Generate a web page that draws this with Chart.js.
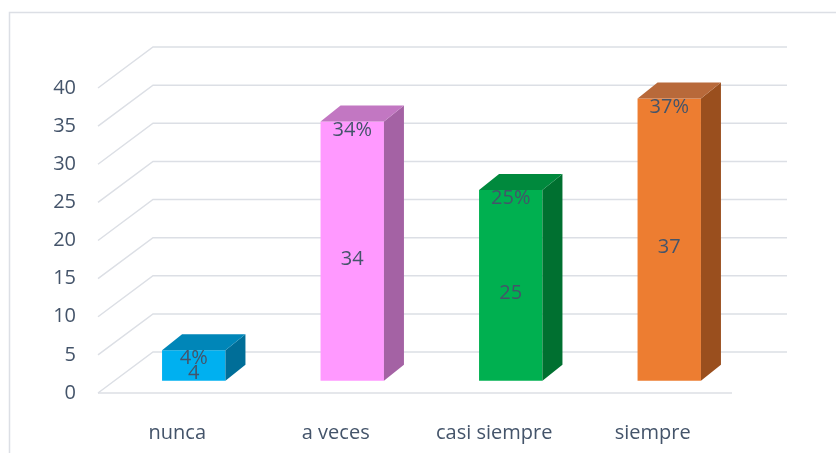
<!DOCTYPE html>
<html>
<head>
<meta charset="utf-8">
<script src="https://cdn.jsdelivr.net/npm/chart.js@4.4.0/dist/chart.umd.min.js"></script>
<style>
  html, body { margin: 0; padding: 0; background: #fff; }
  #wrap { width: 836px; height: 453px; }
</style>
</head>
<body>
<div id="wrap"><canvas id="barChart"></canvas></div>
<script>
const categories = ["nunca", "a veces", "casi siempre", "siempre"];
const values = [4, 34, 25, 37];
const percentLabels = ["4%", "34%", "25%", "37%"];
const yTicks = [0, 5, 10, 15, 20, 25, 30, 35, 40];

const frontColors = ["#00B0F0", "#FF99FF", "#00B050", "#ED7D31"];
const topColors = ["#0086B8", "#C277C2", "#00893D", "#B8693A"];
const sideColors = ["#006E98", "#A462A4", "#007030", "#9A4F1E"];

const textColor = "#44546A";
const gridColor = "#DCDFE5";
const fontFamily = "'Open Sans', sans-serif";

// depth of the 3d floor and of the bars, in px
const wallDX = 55, wallDY = 41;
const barStart = 0.3;
const barDX = 20, barDY = 16;

const threeD = {
  id: "threeD",
  beforeDraw(chart) {
    const ctx = chart.ctx;
    ctx.save();
    ctx.strokeStyle = gridColor;
    ctx.lineWidth = 1.5;
    ctx.strokeRect(9.5, 12.5, chart.width, chart.height);
    ctx.restore();
  },
  beforeDatasetsDraw(chart) {
    const { ctx, chartArea, scales } = chart;
    const y = scales.y;
    ctx.save();
    ctx.strokeStyle = gridColor;
    ctx.lineWidth = 1.5;
    yTicks.forEach(function (v) {
      const py = y.getPixelForValue(v);
      ctx.beginPath();
      ctx.moveTo(chartArea.left, py);
      ctx.lineTo(chartArea.left + wallDX, py - wallDY);
      ctx.lineTo(chartArea.right + wallDX, py - wallDY);
      ctx.stroke();
    });
    const y0 = y.getPixelForValue(0);
    ctx.beginPath();
    ctx.moveTo(chartArea.left, y0);
    ctx.lineTo(chartArea.right, y0);
    ctx.stroke();
    ctx.restore();
    // front faces are drawn by chart.js, pushed back into the floor
    ctx.save();
    ctx.translate(wallDX * barStart, -wallDY * barStart);
  },
  afterDatasetsDraw(chart) {
    const ctx = chart.ctx;
    ctx.restore();
    const ox = wallDX * barStart, oy = -wallDY * barStart;
    const meta = chart.getDatasetMeta(0);
    meta.data.forEach(function (bar, i) {
      const p = bar.getProps(["x", "y", "base", "width"], true);
      const l = p.x - p.width / 2 + ox, r = p.x + p.width / 2 + ox;
      const t = p.y + oy, b = p.base + oy;
      ctx.fillStyle = sideColors[i];
      ctx.beginPath();
      ctx.moveTo(r, t);
      ctx.lineTo(r + barDX, t - barDY);
      ctx.lineTo(r + barDX, b - barDY);
      ctx.lineTo(r, b);
      ctx.closePath();
      ctx.fill();
      ctx.fillStyle = topColors[i];
      ctx.beginPath();
      ctx.moveTo(l, t);
      ctx.lineTo(l + barDX, t - barDY);
      ctx.lineTo(r + barDX, t - barDY);
      ctx.lineTo(r, t);
      ctx.closePath();
      ctx.fill();

      ctx.fillStyle = textColor;
      ctx.font = "20px " + fontFamily;
      ctx.textAlign = "center";
      ctx.textBaseline = "middle";
      const cx = (l + r) / 2;
      ctx.fillText(percentLabels[i], cx, t + 8.5);
      ctx.fillText(String(values[i]), cx, (t + b) / 2 + 8);
    });
  },
};

new Chart(document.getElementById("barChart"), {
  type: "bar",
  data: {
    labels: categories,
    datasets: [
      {
        data: values,
        backgroundColor: frontColors,
        borderWidth: 0,
        barPercentage: 0.4,
        categoryPercentage: 1,
        clip: false,
      },
    ],
  },
  options: {
    responsive: true,
    maintainAspectRatio: false,
    animation: false,
    layout: { padding: { left: 0, top: 88, right: 104, bottom: 0 } },
    plugins: {
      legend: { display: false },
      tooltip: { enabled: false },
    },
    scales: {
      x: {
        grid: { display: false, drawTicks: false },
        border: { display: false },
        ticks: { color: textColor, font: { family: fontFamily, size: 20 }, padding: 28 },
        afterFit: function (s) { s.height = 60; },
      },
      y: {
        min: 0,
        max: 40,
        ticks: { stepSize: 5, color: textColor, font: { family: fontFamily, size: 20 }, padding: 22 },
        grid: { display: false, drawTicks: false },
        border: { display: false },
        afterFit: function (s) { s.width = 98; },
      },
    },
  },
  plugins: [threeD],
});
</script>
</body>
</html>
